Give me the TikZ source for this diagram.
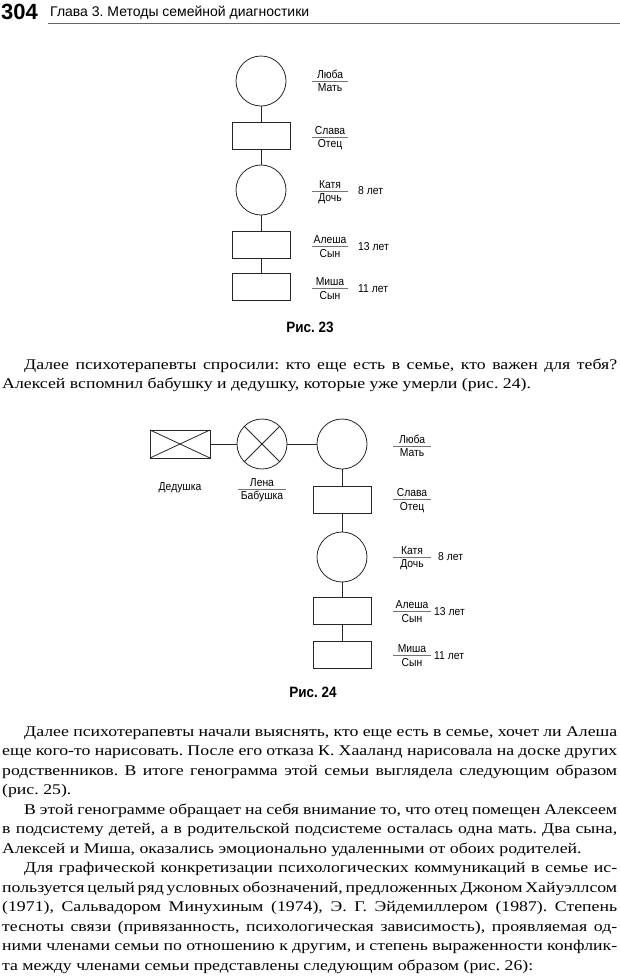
\documentclass[tikz,border=0pt]{standalone}
\usepackage{fontspec}
\setmainfont[FakeStretch=1.2]{Liberation Serif}
\setsansfont{Liberation Sans}
\newfontfamily\condfont[FakeStretch=0.9]{Liberation Sans}
\usepackage{tikz}
\usetikzlibrary{positioning}
\frenchspacing

\newcommand\bodyfont{\rmfamily\fontsize{14.8}{19.5}\selectfont}
\newcommand\jline[4]{\node[bodyline] (#1) at (#2,#3) {\spaceskip=\fontdimen2\font plus \fontdimen3\font minus 0.45\fontdimen2\font
  \makebox[\dimexpr617pt-#2pt\relax][s]{#4}};}
\newcommand\nline[4]{\node[bodyline] (#1) at (#2,#3) {#4};}
\newcommand\famlabel[4]{%
  \node[nametext, anchor=south] (#1top) at (#1) {#2};
  \node[nametext, anchor=north] (#1bot) at (#1) {#3};
  \draw[sepline] ([xshift=-#4]#1) -- ([xshift=#4]#1);}

\tikzset{
  person/.style={draw=black!85, line width=0.8pt, inner sep=0pt, outer sep=0pt},
  female/.style={person, circle, minimum size=50pt},
  male/.style={person, rectangle, minimum width=58pt, minimum height=27pt},
  link/.style={draw=black!85, line width=0.8pt},
  nametext/.style={font=\condfont\fontsize{11.5}{12}\selectfont, inner sep=2.3pt},
  agetext/.style={font=\condfont\fontsize{11.5}{12}\selectfont, anchor=west, inner sep=0pt},
  sepline/.style={draw=black!55, line width=0.6pt},
  caption/.style={font=\condfont\bfseries\fontsize{15}{16}\selectfont},
  bodyline/.style={font=\bodyfont, anchor=base west, inner sep=0pt}
}

\begin{document}
\begin{tikzpicture}[x=1pt, y=-1pt, node distance=16pt]
  \useasboundingbox (0,0) rectangle (620,978);

  % page header
  \node[anchor=base west, inner sep=0pt, font=\sffamily\bfseries\fontsize{22}{24}\selectfont] (pagenum) at (1,19) {304};
  \node[anchor=base west, inner sep=0pt, font=\sffamily\fontsize{14}{16}\selectfont] (chapter) at (50,16) {Глава 3. Методы семейной диагностики};
  \draw[black!60, line width=0.8pt] (48,23) -- (620,23);

  % fig. 23
  \node[female] (luba) at (261,81) {};
  \node[male, below=of luba] (slava) {};
  \node[female, below=of slava] (katya) {};
  \node[male, below=of katya] (alesha) {};
  \node[male, below=15pt of alesha] (misha) {};
  \draw[link] (luba) -- (slava);
  \draw[link] (slava) -- (katya);
  \draw[link] (katya) -- (alesha);
  \draw[link] (alesha) -- (misha);

  \coordinate (lubaL) at ([xshift=69pt]luba.center);
  \coordinate (slavaL) at ([xshift=69pt,yshift=-1.5pt]slava.center);
  \coordinate (katyaL) at ([xshift=69pt,yshift=-1pt]katya.center);
  \coordinate (aleshaL) at ([xshift=69pt,yshift=-2pt]alesha.center);
  \coordinate (mishaL) at ([xshift=69pt,yshift=-2pt]misha.center);
  \famlabel{lubaL}{Люба}{Мать}{18pt}
  \famlabel{slavaL}{Слава}{Отец}{18pt}
  \famlabel{katyaL}{Катя}{Дочь}{18pt}
  \famlabel{aleshaL}{Алеша}{Сын}{18pt}
  \famlabel{mishaL}{Миша}{Сын}{18pt}
  \node[agetext, right=28pt of katyaL] (katyaAge) {8 лет};
  \node[agetext, right=28pt of aleshaL] (aleshaAge) {13 лет};
  \node[agetext, right=28pt of mishaL] (mishaAge) {11 лет};

  \node[caption] (fig23) at (310,327) {Рис. 23};

  \jline{p1a}{24}{369}{Далее психотерапевты спросили: кто еще есть в семье, кто важен для тебя?}
  \nline{p1b}{2}{388}{Алексей вспомнил бабушку и дедушку, которые уже умерли (рис. 24).}

  % fig. 24
  \node[female] (luba2) at (342,444) {};
  \node[female, left=30pt of luba2] (lena) {};
  \node[male, minimum width=60pt, minimum height=28pt, left=27pt of lena] (ded) {};
  \draw[link] (ded.north west) -- (ded.south east);
  \draw[link] (ded.south west) -- (ded.north east);
  \draw[link] (lena.45) -- (lena.225);
  \draw[link] (lena.135) -- (lena.315);
  \draw[link] (ded) -- (lena);
  \draw[link] (lena) -- (luba2);

  \node[male, below=17pt of luba2] (slava2) {};
  \node[female, below=19pt of slava2] (katya2) {};
  \node[male, below=15pt of katya2] (alesha2) {};
  \node[male, below=17pt of alesha2] (misha2) {};
  \draw[link] (luba2) -- (slava2);
  \draw[link] (slava2) -- (katya2);
  \draw[link] (katya2) -- (alesha2);
  \draw[link] (alesha2) -- (misha2);

  \node[nametext] (dedL) at ([yshift=-44pt]ded.center) {Дедушка};
  \coordinate (lenaL) at ([yshift=-45pt]lena.center);
  \famlabel{lenaL}{Лена}{Бабушка}{24pt}

  \coordinate (luba2L) at ([xshift=70pt,yshift=-2pt]luba2.center);
  \coordinate (slava2L) at ([xshift=70pt,yshift=0pt]slava2.center);
  \coordinate (katya2L) at ([xshift=70pt]katya2.center);
  \coordinate (alesha2L) at ([xshift=70pt,yshift=-1pt]alesha2.center);
  \coordinate (misha2L) at ([xshift=70pt,yshift=-1pt]misha2.center);
  \famlabel{luba2L}{Люба}{Мать}{19pt}
  \famlabel{slava2L}{Слава}{Отец}{19pt}
  \famlabel{katya2L}{Катя}{Дочь}{19pt}
  \famlabel{alesha2L}{Алеша}{Сын}{19pt}
  \famlabel{misha2L}{Миша}{Сын}{19pt}
  \node[agetext, right=26pt of katya2L] (katya2Age) {8 лет};
  \node[agetext, right=22pt of alesha2L] (alesha2Age) {13 лет};
  \node[agetext, right=22pt of misha2L] (misha2Age) {11 лет};

  \node[caption] (fig24) at (313,692) {Рис. 24};

  % body text
  \jline{p2a}{24}{736}{Далее психотерапевты начали выяснять, кто еще есть в семье, хочет ли Алеша}
  \jline{p2b}{2}{755.5}{еще кого-то нарисовать. После его отказа К. Хааланд нарисовала на доске других}
  \jline{p2c}{2}{775}{родственников. В итоге генограмма этой семьи выглядела следующим образом}
  \nline{p2d}{2}{794.5}{(рис. 25).}
  \jline{p3a}{24}{814}{В этой генограмме обращает на себя внимание то, что отец помещен Алексеем}
  \jline{p3b}{2}{833.5}{в подсистему детей, а в родительской подсистеме осталась одна мать. Два сына,}
  \nline{p3c}{2}{853}{Алексей и Миша, оказались эмоционально удаленными от обоих родителей.}
  \jline{p4a}{24}{872.5}{Для графической конкретизации психологических коммуникаций в семье ис-}
  \jline{p4b}{2}{892}{пользуется целый ряд условных обозначений, предложенных Джоном Хайуэллсом}
  \jline{p4c}{2}{911.5}{(1971), Сальвадором Минухиным (1974), Э. Г. Эйдемиллером (1987). Степень}
  \jline{p4d}{2}{931}{тесноты связи (привязанность, психологическая зависимость), проявляемая од-}
  \jline{p4e}{2}{950.5}{ними членами семьи по отношению к другим, и степень выраженности конфлик-}
  \nline{p4f}{2}{970}{та между членами семьи представлены следующим образом (рис. 26):}
\end{tikzpicture}
\end{document}
